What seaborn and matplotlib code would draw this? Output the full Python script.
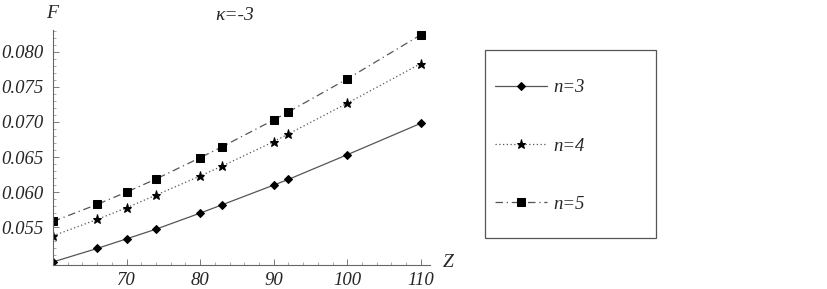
#!/usr/bin/env python3
"""F vs Z for kappa=-3, three n values (Mathematica-style look)"""

import pandas as pd
import numpy as np
import matplotlib.pyplot as plt
import seaborn as sns
from matplotlib.patches import Rectangle
from matplotlib.ticker import MultipleLocator, FixedLocator

sns.set_style("ticks")
plt.rcParams['font.family'] = ['Liberation Serif', 'DejaVu Serif']

# data
z_vals = [60, 66, 70, 74, 80, 83, 90, 92, 100, 110]
f_n3 = [0.05004, 0.05196, 0.05333, 0.05471, 0.05700, 0.05819, 0.06100, 0.06181, 0.06533, 0.06981]
f_n4 = [0.05376, 0.05610, 0.05776, 0.05957, 0.06229, 0.06371, 0.06720, 0.06829, 0.07267, 0.07833]
f_n5 = [0.05581, 0.05824, 0.06000, 0.06186, 0.06490, 0.06647, 0.07029, 0.07143, 0.07614, 0.08243]
series_labels = ['n=3', 'n=4', 'n=5']
x_ticks = [70, 80, 90, 100, 110]
y_ticks = [0.055, 0.060, 0.065, 0.070, 0.075, 0.080]

df = pd.DataFrame({
    'Z': z_vals * 3,
    'F': f_n3 + f_n4 + f_n5,
    'n': np.repeat(series_labels, len(z_vals)),
})

styles = {
    'n=3': dict(linestyle='-', marker='D', markersize=3.8),
    'n=4': dict(linestyle=(0, (1, 2)), marker='*', markersize=6.5),
    'n=5': dict(linestyle=(0, (6, 3, 1, 3)), marker='s', markersize=5.5),
}

fig = plt.figure(figsize=(8.28, 2.89), dpi=100)
ax = fig.add_axes([0.064, 0.083, 0.455, 0.813])

for lab in series_labels:
    sub = df[df['n'] == lab]
    st = styles[lab]
    sns.lineplot(data=sub, x='Z', y='F', ax=ax, color='#555555', linewidth=0.9,
                 linestyle=st['linestyle'], marker=st['marker'],
                 markersize=st['markersize'], markerfacecolor='black',
                 markeredgecolor='black', label=lab, legend=False)

ax.set_xlim(60, 111.2)
ax.set_ylim(0.0496, 0.0831)
ax.xaxis.set_major_locator(FixedLocator(x_ticks))
ax.yaxis.set_major_locator(FixedLocator(y_ticks))
ax.xaxis.set_minor_locator(MultipleLocator(2))
ax.yaxis.set_minor_locator(MultipleLocator(0.001))
ax.set_xticklabels([str(v) for v in x_ticks])
ax.set_yticklabels([f'{v:.3f}' for v in y_ticks])
ax.tick_params(which='major', direction='in', length=4, width=0.6, color='#666666',
               labelsize=13.5, pad=5)
ax.tick_params(which='minor', direction='in', length=2, width=0.5, color='#888888')
ax.tick_params(axis='y', pad=7)
for t in ax.get_xticklabels() + ax.get_yticklabels():
    t.set_fontstyle('italic')
for s in ['top', 'right']:
    ax.spines[s].set_visible(False)
for s in ['left', 'bottom']:
    ax.spines[s].set_color('#666666')
    ax.spines[s].set_linewidth(0.8)
ax.set_xlabel('')
ax.set_ylabel('')
ax.grid(False)

fig.text(0.063, 0.955, 'F', fontsize=14, fontstyle='italic', ha='center', va='center')
fig.text(0.541, 0.09, 'Z', fontsize=14, fontstyle='italic', ha='center', va='center')
fig.text(0.284, 0.945, 'κ=-3', fontsize=14, fontstyle='italic', ha='center', va='center')

# legend box
fig.patches.append(Rectangle((0.586, 0.1765), 0.2065, 0.6505, transform=fig.transFigure,
                             fill=False, edgecolor='#555555', linewidth=0.9))
handles, labels = ax.get_legend_handles_labels()
leg = fig.legend(handles, labels, loc='upper left', bbox_to_anchor=(0.589, 0.752),
                 frameon=False, fontsize=13.5, handlelength=2.75, labelspacing=2.2,
                 handletextpad=0.35, borderaxespad=0)
for t in leg.get_texts():
    t.set_fontstyle('italic')

fig.savefig('out.png', dpi=100)
